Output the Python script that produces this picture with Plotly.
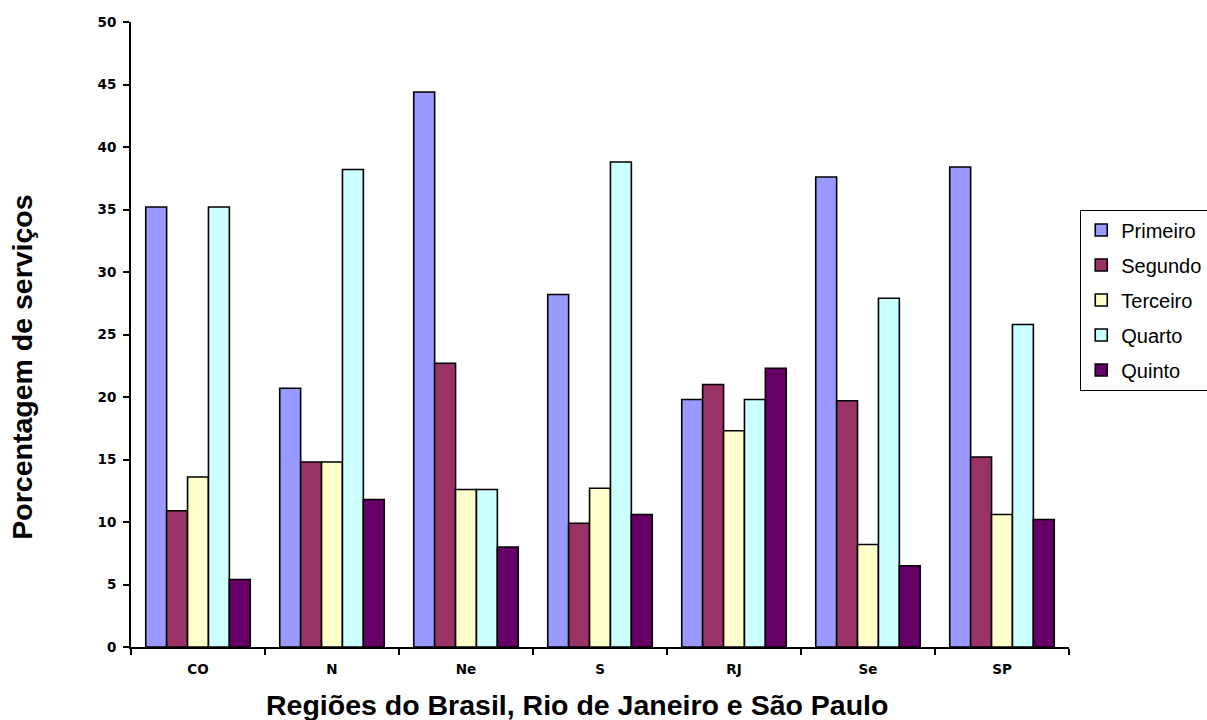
import plotly.graph_objects as go

# Regions / states on the category axis
regioes = ["CO", "N", "Ne", "S", "RJ", "Se", "SP"]

# Percentage of services per quintile group
primeiro = [35.2, 20.7, 44.4, 28.2, 19.8, 37.6, 38.4]
segundo = [10.9, 14.8, 22.7, 9.9, 21.0, 19.7, 15.2]
terceiro = [13.6, 14.8, 12.6, 12.7, 17.3, 8.2, 10.6]
quarto = [35.2, 38.2, 12.6, 38.8, 19.8, 27.9, 25.8]
quinto = [5.4, 11.8, 8.0, 10.6, 22.3, 6.5, 10.2]

series = [
    ("Primeiro", primeiro, "#9999FF"),
    ("Segundo", segundo, "#993366"),
    ("Terceiro", terceiro, "#FFFFCC"),
    ("Quarto", quarto, "#CCFFFF"),
    ("Quinto", quinto, "#660066"),
]

fig = go.Figure()
for nome, valores, cor in series:
    fig.add_trace(go.Bar(
        x=regioes, y=valores, name=nome, legendgroup=nome,
        marker=dict(color=cor, line=dict(color="black", width=1.6)),
    ))

tick_font = dict(size=13.5, family="DejaVu Sans", weight="bold", color="black")
title_font = dict(size=28.5, family="Liberation Sans, Arial", color="black")

fig.update_layout(
    width=1207, height=720,
    paper_bgcolor="white", plot_bgcolor="white",
    margin=dict(l=131, r=138, t=22, b=73, autoexpand=False),
    barmode="group", bargap=0.22, bargroupgap=0,
    font=dict(family="Liberation Sans, Arial", color="black"),
    legend=dict(
        x=1.012, xanchor="left", y=0.70, yanchor="top",
        bordercolor="black", borderwidth=1, bgcolor="white",
        font=dict(size=20, color="black"),
        tracegroupgap=6, itemwidth=30,
    ),
    showlegend=True,
    annotations=[
        dict(text="<b>Regiões do Brasil, Rio de Janeiro e São Paulo</b>",
             xref="paper", yref="paper", x=0.4755, y=-0.093,
             xanchor="center", yanchor="middle", showarrow=False, font=title_font),
        dict(text="<b>Porcentagem de serviços</b>",
             xref="paper", yref="paper", x=-0.1165, y=0.448, textangle=-90,
             xanchor="center", yanchor="middle", showarrow=False, font=title_font),
    ],
)

fig.update_xaxes(
    showline=True, linecolor="black", linewidth=2,
    ticks="outside", tickson="boundaries", ticklen=6, tickwidth=2, tickcolor="black",
    tickfont=tick_font, ticklabelstandoff=9,
    showgrid=False,
)
fig.update_yaxes(
    range=[0, 50], dtick=5, tick0=0,
    showline=True, linecolor="black", linewidth=2,
    ticks="outside", ticklen=6, tickwidth=2, tickcolor="black",
    tickfont=tick_font, ticklabelstandoff=4,
    showgrid=False, zeroline=False,
)

fig.write_html("out.html")
